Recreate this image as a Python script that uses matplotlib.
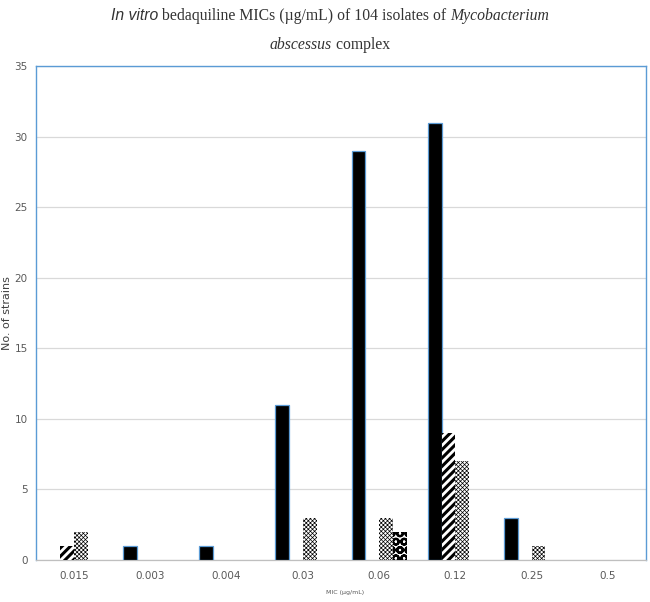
import matplotlib
matplotlib.use("Agg")
import matplotlib.pyplot as plt
import numpy as np

# MIC categories (ug/mL) as printed on the axis
mic_labels = ["0.015", "0.003", "0.004", "0.03", "0.06", "0.12", "0.25", "0.5"]

# number of strains per series
solid = [0, 1, 1, 11, 29, 31, 3, 0]
diag = [1, 0, 0, 0, 0, 9, 0, 0]
dotted = [2, 0, 0, 3, 3, 7, 1, 0]
circles = [0, 0, 0, 0, 2, 0, 0, 0]

GRID = "#d9d9d9"
TICK = "#595959"
BLUE = "#5b9bd5"


def draw_series(ax, pos, vals, w, **kw):
    vals = np.asarray(vals)
    keep = vals > 0
    ax.bar(pos[keep], vals[keep], w, zorder=3, **kw)


def main():
    fig = plt.figure(figsize=(6.5, 6.02), dpi=100)
    ax = fig.add_axes([0.0554, 0.0698, 0.9384, 0.8202])

    x = np.arange(len(mic_labels))
    w = 0.18
    offs = np.array([-1.5, -0.5, 0.5, 1.5]) * w

    draw_series(ax, x + offs[0], solid, w, color="black", edgecolor=BLUE,
                linewidth=0.9)

    plt.rcParams["hatch.linewidth"] = 2.2
    draw_series(ax, x + offs[1], diag, w, color="white", edgecolor="black",
                linewidth=0, hatch="////")

    plt.rcParams["hatch.linewidth"] = 0.5
    draw_series(ax, x + offs[2], dotted, w, color="white", edgecolor="black",
                linewidth=0, hatch="xxxxxxxx")

    plt.rcParams["hatch.linewidth"] = 1.6
    draw_series(ax, x + offs[3], circles, w, color="white", edgecolor="black",
                linewidth=0, hatch="OO")

    ax.set_xlim(-0.5, len(mic_labels) - 0.5)
    ax.set_ylim(0, 35)
    ax.set_yticks(range(0, 36, 5))
    ax.set_xticks(x)
    ax.set_xticklabels(mic_labels)
    ax.tick_params(length=0, labelsize=7.5, labelcolor=TICK)
    ax.tick_params(axis="x", pad=8)
    ax.tick_params(axis="y", pad=6)
    ax.yaxis.grid(True, color=GRID, linewidth=0.9, zorder=0)
    ax.set_axisbelow(True)

    for side in ["left", "top", "right"]:
        ax.spines[side].set_color(BLUE)
        ax.spines[side].set_linewidth(1.0)
    ax.spines["bottom"].set_color("#bfbfbf")
    ax.spines["bottom"].set_linewidth(0.9)

    ax.set_ylabel("No. of strains", fontsize=8, color="#404040", labelpad=2)
    fig.text(0.531, 0.012, "MIC (\u00b5g/mL)", fontsize=4.5, color=TICK,
             ha="center", va="bottom")

    # title made of pieces in different fonts, centred as a whole
    line1 = [("In vitro", dict(family="Liberation Sans", style="italic")),
             (" bedaquiline MICs (\u00b5g/mL) of 104 isolates of ",
              dict(family="Liberation Serif")),
             ("Mycobacterium", dict(family="Liberation Serif", style="italic"))]
    line2 = [("abscessus", dict(family="Liberation Serif", style="italic")),
             (" complex", dict(family="Liberation Serif"))]

    fig.canvas.draw()
    renderer = fig.canvas.get_renderer()
    for pieces, y in [(line1, 1 - 16 / 602), (line2, 1 - 45 / 602)]:
        texts = []
        for s, kw in pieces:
            t = fig.text(0, y, s, fontsize=11.3, color="#333333",
                         va="center", ha="left", **kw)
            texts.append(t)
        widths = [t.get_window_extent(renderer).width for t in texts]
        total = sum(widths)
        xpos = (fig.bbox.width - total) / 2 + 5
        for t, wd in zip(texts, widths):
            t.set_x(xpos / fig.bbox.width)
            xpos += wd

    fig.savefig("out.png", dpi=100)


if __name__ == "__main__":
    main()
